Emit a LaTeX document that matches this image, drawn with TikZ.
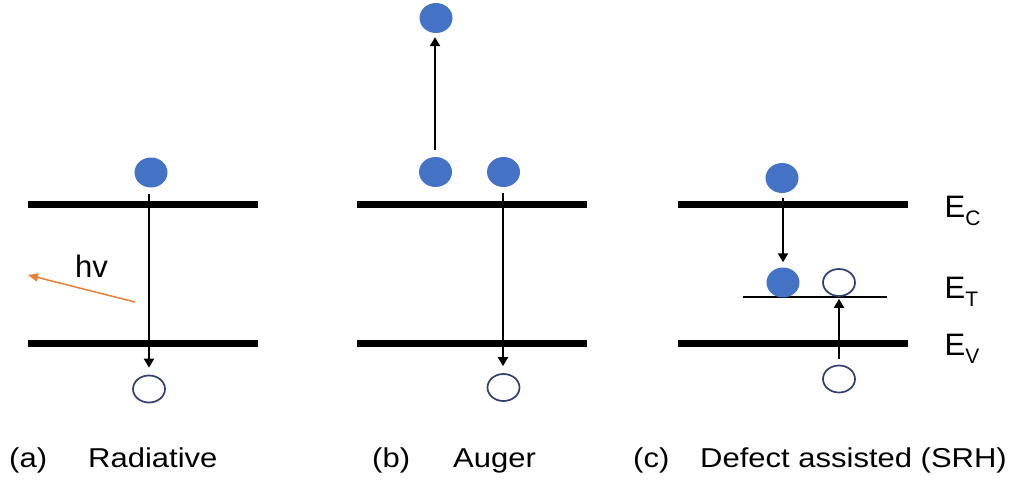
\documentclass[tikz,border=0pt]{standalone}
\usepackage{fontspec}
\usepackage{graphicx}
\setmainfont{Liberation Sans}
\usetikzlibrary{arrows.meta,shapes.geometric}
\definecolor{eblue}{HTML}{4472C4}
\definecolor{hblue}{HTML}{2F3F70}
\definecolor{photon}{HTML}{ED7D31}
\tikzset{
  band/.style={line width=7pt},
  traplevel/.style={line width=1.8pt},
  electron/.style={ellipse, fill=eblue, inner sep=0pt, minimum width=33pt, minimum height=30pt},
  hole/.style={ellipse, draw=hblue, line width=1.7pt, fill=white, inner sep=0pt, minimum width=32pt, minimum height=27pt},
  trans/.style={-{Triangle[length=9pt,width=10pt]}, line width=2.1pt},
  photonarrow/.style={-{Triangle[length=10pt,width=8pt]}, line width=1.5pt, draw=photon},
  lbl/.style={anchor=base west, inner sep=0pt, font=\fontsize{31}{36}\selectfont},
}
\newcommand{\sublbl}[1]{\raisebox{-8.5pt}{\fontsize{21}{23}\selectfont #1}}
\newcommand{\squash}[1]{\scalebox{1}[0.88]{#1}}
\begin{document}
\begin{tikzpicture}[x=1pt,y=-1pt]
\useasboundingbox (0,0) rectangle (1011,479);

% (a) Radiative
\draw[band] (28,204.5) coordinate (a1) -- (258,204.5) coordinate (a2);
\draw[band] (28,343) coordinate (a3) -- (258,343) coordinate (a4);
\node[electron] (ae) at (151,172.5) {};
\node[hole] (ah) at (149,389) {};
\draw[trans, shorten <=6pt, shorten >=7pt] (ae.south -| 149,0) -- (ah.north -| 149,0);
\coordinate (pstart) at (135,302);
\coordinate (pend) at (28,275);
\draw[photonarrow] (pstart) -- (pend);
\node[lbl] (hv) at (75,277) {hv};

% (b) Auger
\draw[band] (357,204.5) coordinate (b1) -- (587,204.5) coordinate (b2);
\draw[band] (357,343) coordinate (b3) -- (587,343) coordinate (b4);
\node[electron] (bt) at (436,18) {};
\node[electron] (be1) at (435.5,172) {};
\node[electron] (be2) at (503.5,172) {};
\node[hole] (bh) at (503.5,387.5) {};
\draw[trans, shorten <=7pt, shorten >=4pt] (be1.north -| 435,0) -- (bt.south -| 435,0);
\draw[trans, shorten <=6pt, shorten >=7pt] (be2.south -| 503,0) -- (bh.north -| 503,0);

% (c) Defect assisted
\draw[band] (678,204.5) coordinate (c1) -- (908,204.5) coordinate (c2);
\draw[band] (678,343) coordinate (c3) -- (908,343) coordinate (c4);
\draw[traplevel] (743,297) coordinate (t1) -- (887,297) coordinate (t2);
\node[electron] (ce) at (782,178) {};
\node[electron] (cte) at (783,282.5) {};
\node[hole] (cth) at (839,282.5) {};
\node[hole] (ch) at (839,379) {};
\draw[trans, shorten <=5pt, shorten >=5pt] (ce.south -| 783,0) -- (cte.north -| 783,0);
\draw[trans, shorten <=6pt, shorten >=2pt] (ch.north) -- (cth.south);

% level labels
\node[lbl] (EC) at (944.5,217) {E\sublbl{C}};
\node[lbl] (ET) at (944.5,298) {E\sublbl{T}};
\node[lbl] (EV) at (944.5,355) {E\sublbl{V}};

% captions
\node[lbl] (capa) at (9,467) {\squash{(a)}};
\node[lbl] (capan) at (88,467) {\squash{Radiative}};
\node[lbl] (capb) at (372,467) {\squash{(b)}};
\node[lbl] (capbn) at (453,467) {\squash{Auger}};
\node[lbl] (capc) at (633,467) {\squash{(c)}};
\node[lbl] (capcn) at (700,467) {\squash{Defect assisted (SRH)}};
\end{tikzpicture}
\end{document}
